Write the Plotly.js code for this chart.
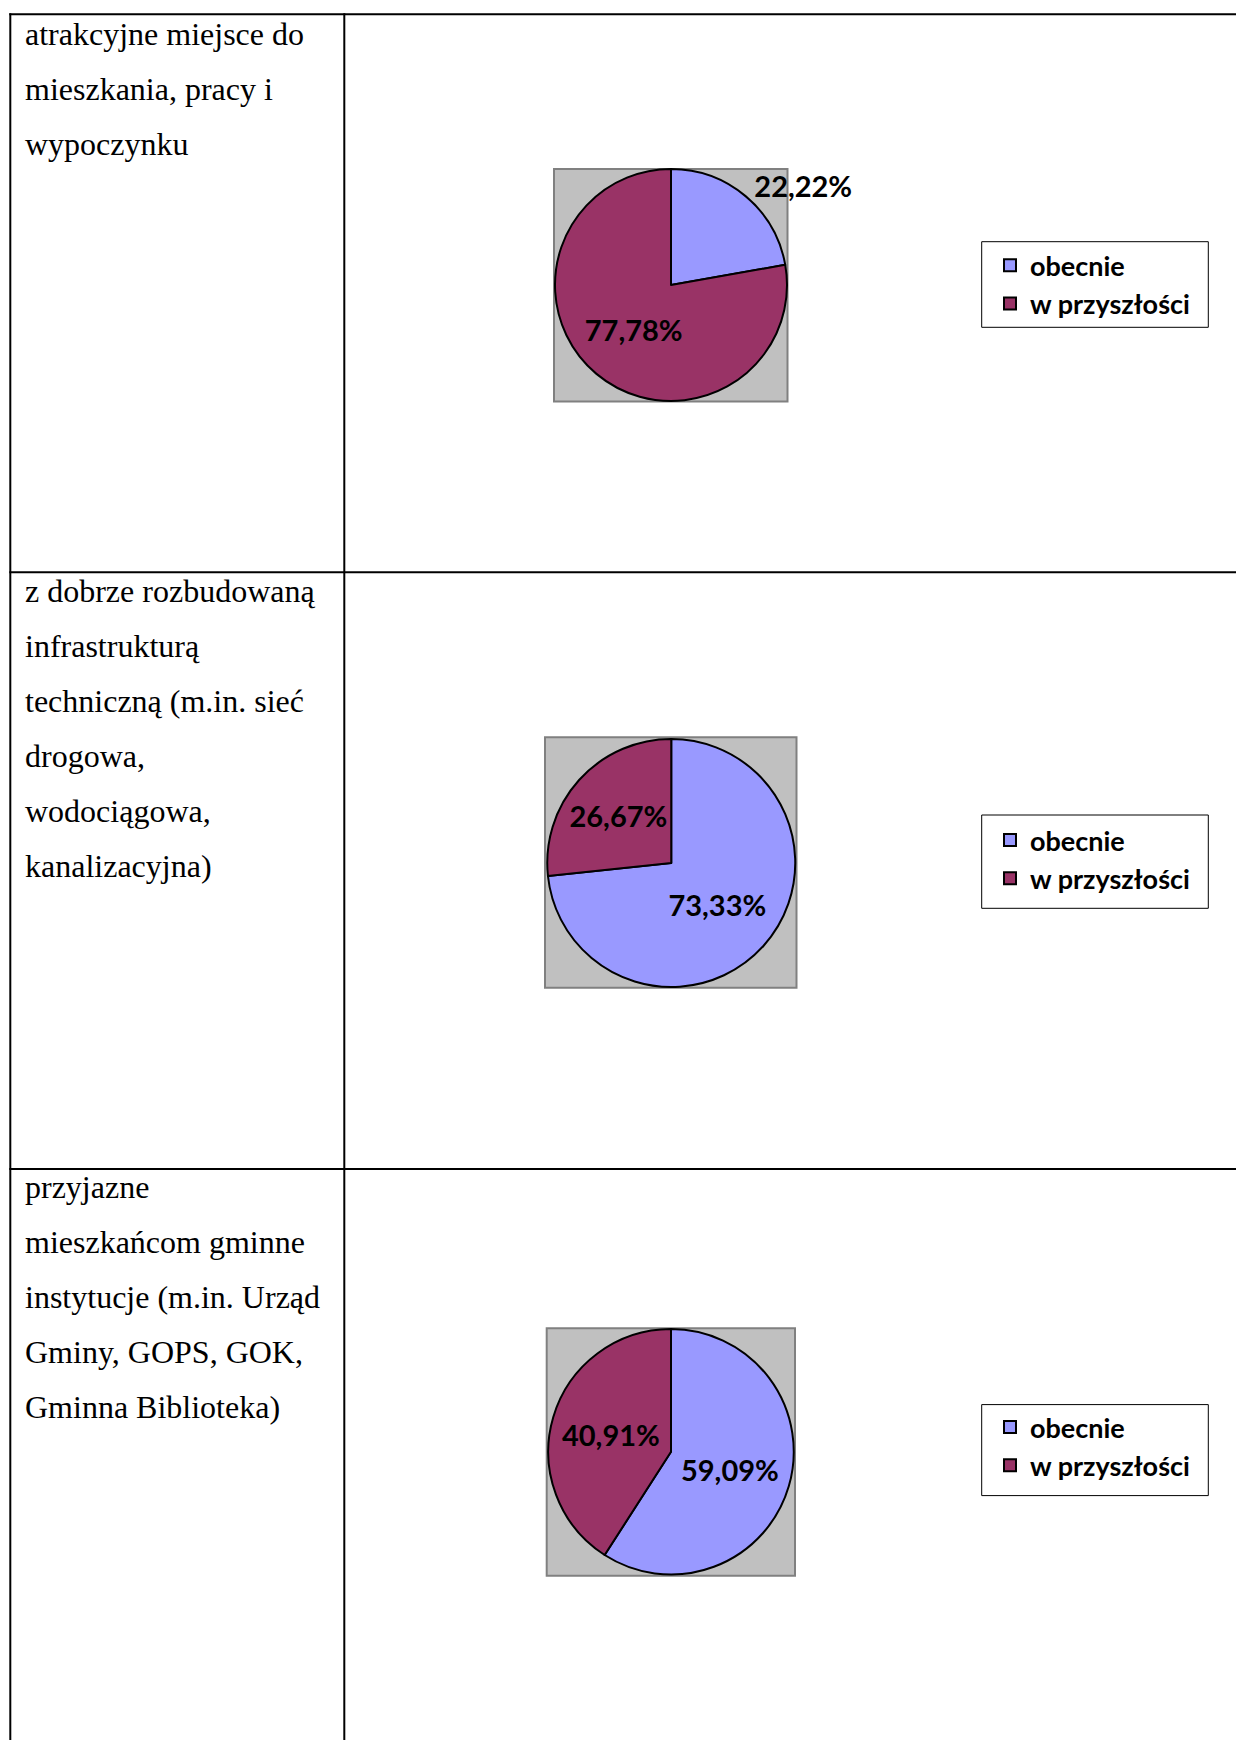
<!DOCTYPE html>
<html>
<head>
<meta charset="utf-8">
<script src="https://cdn.plot.ly/plotly-3.0.1.min.js"></script>
<style>
  html, body { margin: 0; padding: 0; background: #fff; }
  #chart { width: 1236px; height: 1740px; }
</style>
</head>
<body>
<div id="chart"></div>
<script>
// ---- data ----
var seriesNames = ['obecnie', 'w przyszłości'];
var obecnie = [22.22, 73.33, 59.09];
var wPrzyszlosci = [77.78, 26.67, 40.91];
var row1Lines = ['atrakcyjne miejsce do', 'mieszkania, pracy i', 'wypoczynku'];
var row2Lines = ['z dobrze rozbudowaną', 'infrastrukturą', 'techniczną (m.in. sieć', 'drogowa,', 'wodociągowa,', 'kanalizacyjna)'];
var row3Lines = ['przyjazne', 'mieszkańcom gminne', 'instytucje (m.in. Urząd', 'Gminy, GOPS, GOK,', 'Gminna Biblioteka)'];
var sliceColors = ['#9999FF', '#993366'];

// ---- layout helpers (pixel -> paper) ----
var W = 1236, H = 1740;
function px(x) { return x / W; }
function py(y) { return 1 - y / H; }

// per-row geometry
var rows = [
  { lines: row1Lines, baseline: 44.3,
    pie: [555, 169, 787, 401], box: [554, 169, 787.5, 401.5],
    leg: 241.3, legBox: [981.7, 241.7, 1208.3, 327.3],
    textpos: ['outside', 'inside'] },
  { lines: row2Lines, baseline: 601.3,
    pie: [547, 739, 795.5, 987], box: [545, 737.3, 796.5, 987.7],
    leg: 816, legBox: [981.7, 815, 1208.3, 908.3],
    textpos: ['inside', 'inside'] },
  { lines: row3Lines, baseline: 1197.3,
    pie: [547.5, 1329, 794.5, 1574.5], box: [546.7, 1328.3, 795, 1575.7],
    leg: 1403, legBox: [981.7, 1404.6, 1208.3, 1495.6],
    textpos: ['inside', 'inside'] }
];
var lineGap = 55;
var labelFont = { family: 'Lato, "Open Sans", sans-serif', size: 29, color: '#000000', weight: 'bold' };

var data = [];
var shapes = [];
var annotations = [];
var layout = {
  width: W, height: H,
  margin: { l: 0, r: 0, t: 0, b: 0, pad: 0 },
  paper_bgcolor: '#ffffff',
  separators: ', ',
  hovermode: false,
  showlegend: true
};

rows.forEach(function (r, i) {
  var legName = i === 0 ? 'legend' : 'legend' + (i + 1);
  // zero-width spaces keep each chart's legend entries distinct (pie legends merge equal labels)
  var zw = new Array(i + 1).join('\u200B');
  data.push({
    type: 'pie',
    labels: seriesNames.map(function (s) { return s + zw; }),
    values: [obecnie[i], wPrzyszlosci[i]],
    sort: false,
    direction: 'clockwise',
    rotation: 0,
    marker: { colors: sliceColors, line: { color: '#000000', width: 2 } },
    texttemplate: '%{percent:.2%}',
    textposition: r.textpos,
    insidetextorientation: 'horizontal',
    textfont: labelFont,
    outsidetextfont: labelFont,
    insidetextfont: labelFont,
    domain: { x: [px(r.pie[0]), px(r.pie[2])], y: [py(r.pie[3]), py(r.pie[1])] },
    legend: legName,
    hoverinfo: 'skip'
  });

  layout[legName] = {
    x: px(990), xanchor: 'left',
    y: py(r.leg), yanchor: 'top',
    bgcolor: 'rgba(0,0,0,0)',
    borderwidth: 0,
    font: { family: 'Lato, "Open Sans", sans-serif', size: 27, color: '#000000', weight: 'bold' },
    traceorder: 'normal'
  };

  // grey chart-area square behind the pie
  shapes.push({
    type: 'rect', xref: 'paper', yref: 'paper', layer: 'below',
    x0: px(r.box[0]), x1: px(r.box[2]), y0: py(r.box[3]), y1: py(r.box[1]),
    fillcolor: '#C0C0C0', line: { color: '#808080', width: 2 }
  });
  // legend frame
  shapes.push({
    type: 'rect', xref: 'paper', yref: 'paper', layer: 'below',
    x0: px(r.legBox[0]), x1: px(r.legBox[2]), y0: py(r.legBox[3]), y1: py(r.legBox[1]),
    fillcolor: '#ffffff', line: { color: '#000000', width: 1 }
  });

  // row text, one annotation per line
  r.lines.forEach(function (t, k) {
    annotations.push({
      xref: 'paper', yref: 'paper',
      x: px(23), xanchor: 'left',
      y: py(r.baseline + k * lineGap - 10.5), yanchor: 'middle',
      text: t, showarrow: false,
      font: { family: '"Liberation Serif", "Times New Roman", serif', size: 32, color: '#000000' }
    });
  });
});

// table grid lines
function hline(y, x0, x1) {
  return { type: 'line', xref: 'paper', yref: 'paper', layer: 'above',
    x0: px(x0), x1: px(x1), y0: py(y), y1: py(y), line: { color: '#000000', width: 2 } };
}
function vline(x, y0, y1) {
  return { type: 'line', xref: 'paper', yref: 'paper', layer: 'above',
    x0: px(x), x1: px(x), y0: py(y0), y1: py(y1), line: { color: '#000000', width: 2 } };
}
shapes.push(hline(14.3, 9.3, W));
shapes.push(hline(572.3, 9.3, W));
shapes.push(hline(1169, 9.3, W));
shapes.push(vline(10.3, 13.3, H));
shapes.push(vline(344.3, 13.3, H));

layout.shapes = shapes;
layout.annotations = annotations;

Plotly.newPlot('chart', data, layout, { displayModeBar: false, staticPlot: true });
</script>
</body>
</html>
